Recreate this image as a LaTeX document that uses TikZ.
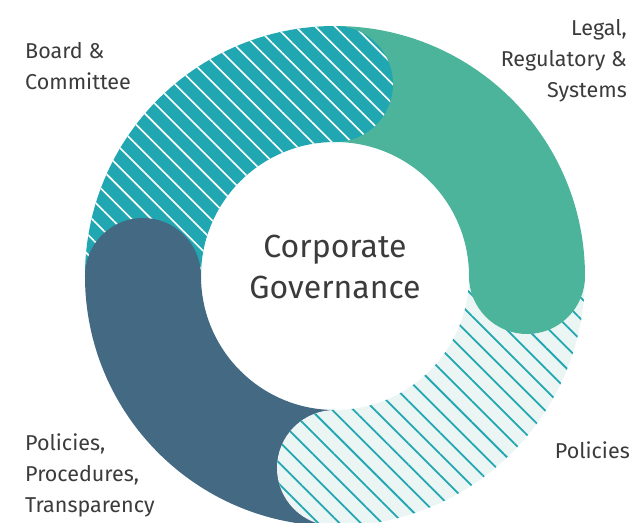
\documentclass[tikz,border=0pt]{standalone}
\usepackage{fontspec}
\setmainfont{Fira Sans}
\usepackage{tikz}
\usetikzlibrary{patterns.meta}

\definecolor{ringteal}{HTML}{21A7B1}
\definecolor{ringgreen}{HTML}{4CB49B}
\definecolor{ringslate}{HTML}{436983}
\definecolor{ringpale}{HTML}{EAF5F4}
\definecolor{inkgray}{HTML}{3B3B3B}

\tikzset{
    hatchwhite/.style={fill=ringteal, postaction={pattern={Lines[angle=-45,distance=14pt,line width=1.6pt]}, pattern color=white}},
    hatchteal/.style={fill=ringpale, postaction={pattern={Lines[angle=-45,distance=15pt,line width=1.8pt]}, pattern color=ringteal}},
    caption/.style={text=inkgray, font=\fontsize{21.5}{31}\selectfont, inner sep=0pt}
}

\begin{document}
\begin{tikzpicture}[x=1pt, y=1pt]
        \useasboundingbox (-335,-247) rectangle (298,276);

        % quarter rings
        \path[hatchwhite] (180:250) arc[start angle=180, end angle=90, radius=250] -- (90:134) arc[start angle=90, end angle=180, radius=134] -- cycle;
        \path[fill=ringgreen] (90:250) arc[start angle=90, end angle=0, radius=250] -- (0:134) arc[start angle=0, end angle=90, radius=134] -- cycle;
        \path[hatchteal] (0:250) arc[start angle=0, end angle=-90, radius=250] -- (-90:134) arc[start angle=-90, end angle=0, radius=134] -- cycle;
        \path[fill=ringslate] (270:250) arc[start angle=270, end angle=180, radius=250] -- (180:134) arc[start angle=180, end angle=270, radius=134] -- cycle;

        % round ends
        \path[hatchwhite] (90:192) circle[radius=58];
        \path[fill=ringgreen] (0:192) circle[radius=58];
        \path[hatchteal] (-90:192) circle[radius=58];
        \path[fill=ringslate] (180:192) circle[radius=58];

        \node [text=inkgray, font=\fontsize{32}{41}\selectfont, align=center] (centre) at (0,9) {Corporate\\Governance};

        % base anchor sits on the last line
        \node [caption, align=left, anchor=base west] (board) at (-310,187) {Board \&\\Committee};
        \node [caption, align=right, anchor=base east] (legal) at (292,179) {Legal,\\Regulatory \&\\Systems};
        \node [caption, anchor=base east] (policies) at (295,-182) {Policies};
        \node [caption, align=left, anchor=base west] (procedures) at (-310,-236) {Policies,\\Procedures,\\Transparency};
    \end{tikzpicture}
\end{document}
